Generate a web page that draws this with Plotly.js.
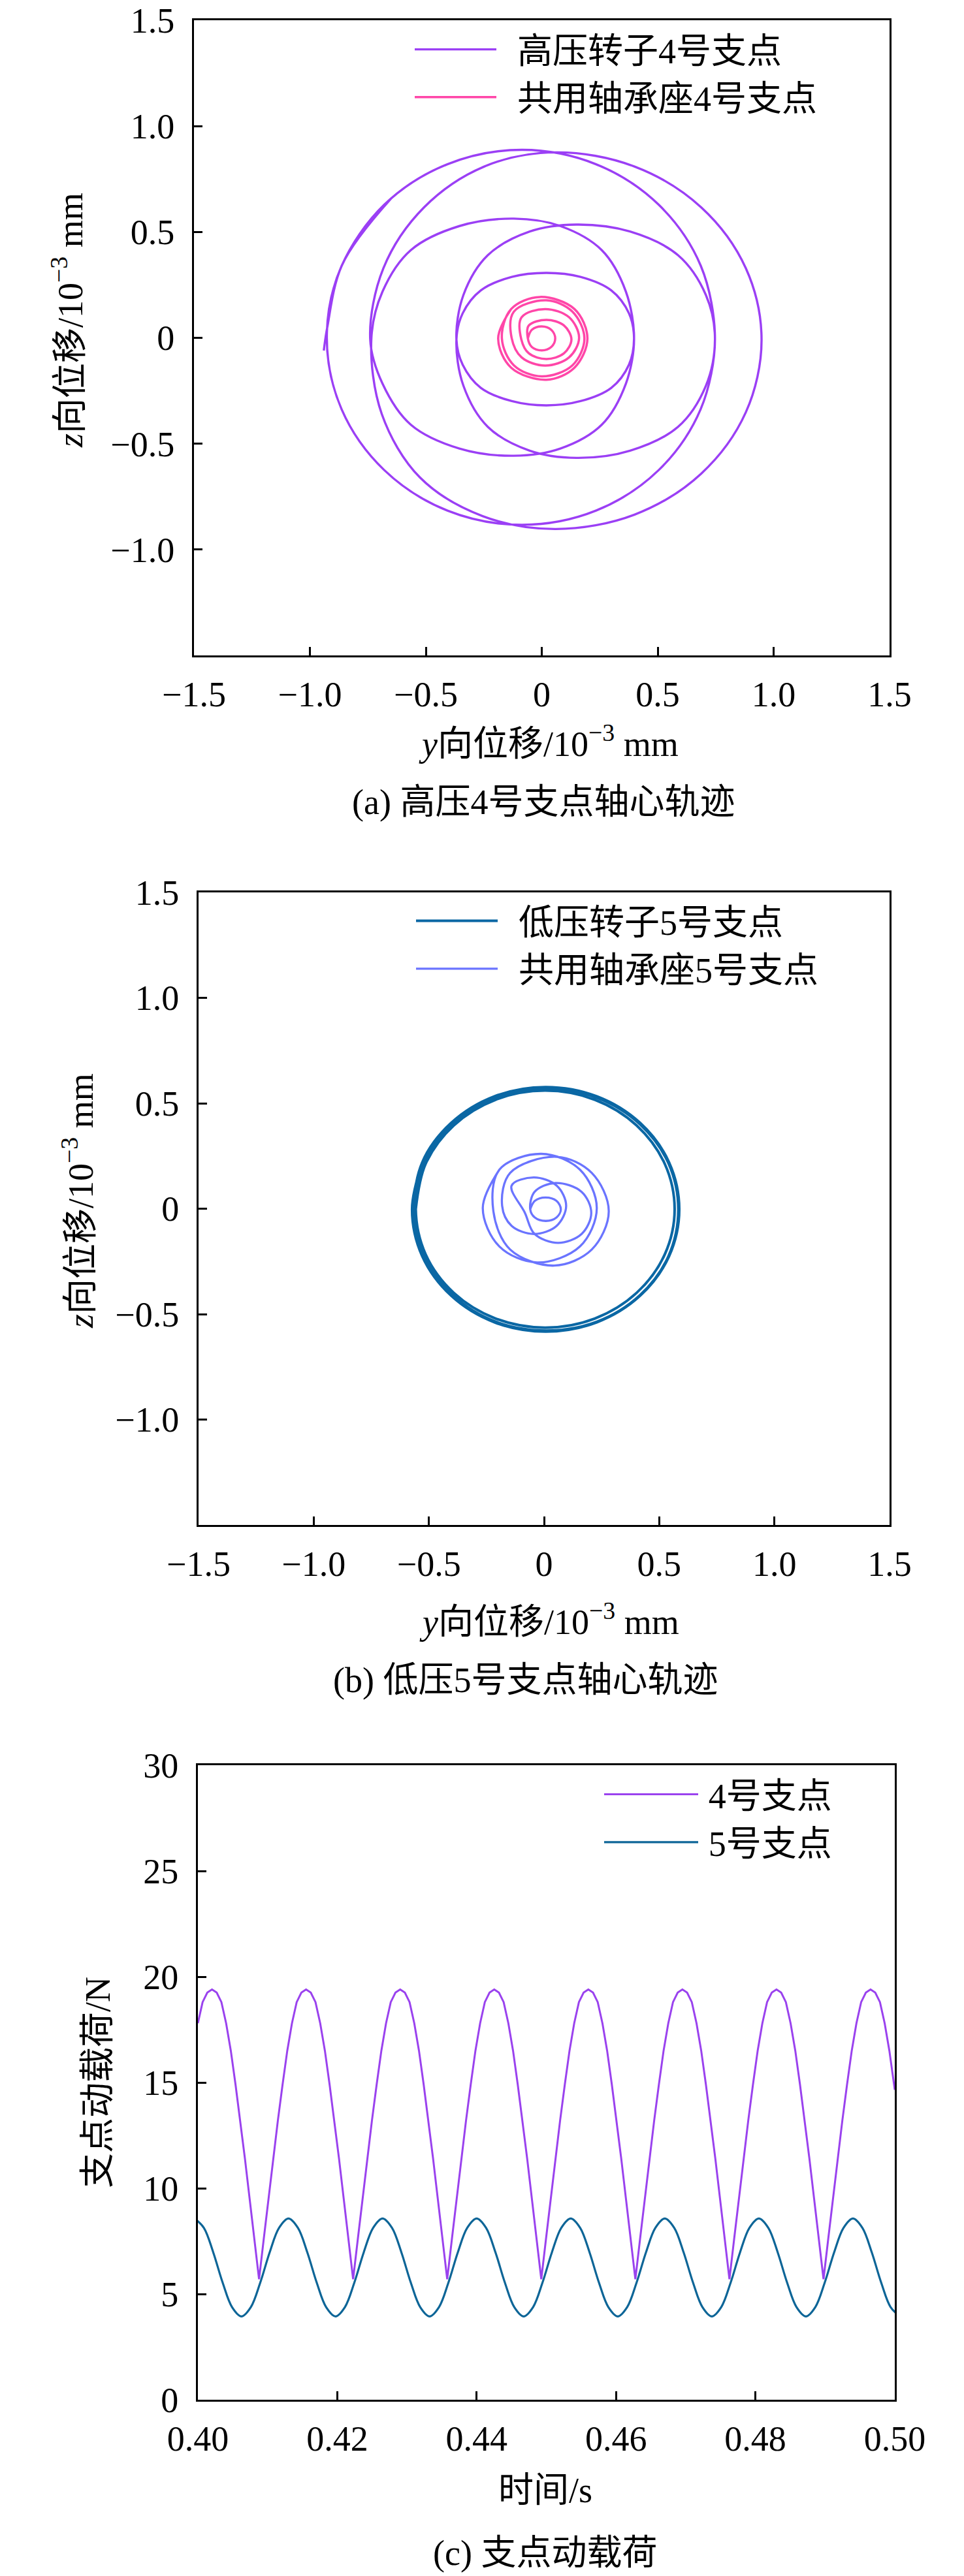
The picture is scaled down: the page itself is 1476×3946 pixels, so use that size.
<!DOCTYPE html>
<html>
<head>
<meta charset="utf-8">
<script src="https://cdn.plot.ly/plotly-3.0.1.min.js"></script>
<style>html,body{margin:0;padding:0;background:#fff;}#chart{width:1476px;height:3946px;}</style>
</head>
<body>
<div id="chart"></div>
<script>
// ---------- tick labels ----------
const dispTickVals = [-1.5, -1, -0.5, 0, 0.5, 1, 1.5];
const dispTickText = ['\u22121.5', '\u22121.0', '\u22120.5', '0', '0.5', '1.0', '1.5'];
const zTickVals = [-1, -0.5, 0, 0.5, 1, 1.5];
const zTickText = ['\u22121.0', '\u22120.5', '0', '0.5', '1.0', '1.5'];
const timeTickVals = [0.40, 0.42, 0.44, 0.46, 0.48, 0.50];
const timeTickText = ['0.40', '0.42', '0.44', '0.46', '0.48', '0.50'];
const loadTickVals = [0, 5, 10, 15, 20, 25, 30];
const loadTickText = ['0', '5', '10', '15', '20', '25', '30'];

// ---------- series names ----------
const names = ['高压转子4号支点', '共用轴承座4号支点', '低压转子5号支点', '共用轴承座5号支点', '4号支点', '5号支点'];

// ---------- (a) HP rotor support 4 orbit (y, z in 1e-3 mm), read along the path ----------
const y4Rotor = [
 -0.648,-0.863,-0.927,-0.863,-0.680,-0.407,-0.085,0.234,0.505,0.685,
 0.747,
 0.708,0.588,0.381,0.15,-0.052,-0.233,-0.338,
 -0.368,
 -0.341,-0.263,-0.129,0.02,0.167,0.300,0.376,
 0.398,
 0.363,0.259,0.080,-0.12,-0.355,-0.565,-0.687,
 -0.735,
 -0.69,-0.525,-0.255,0.06,0.400,0.688,0.880,0.948,0.880,0.688,0.400,0.06,-0.248,-0.508,-0.683,
 -0.74,
 -0.687,-0.565,-0.355,-0.12,0.080,0.259,0.363,
 0.398,
 0.376,0.300,0.167,0.02,-0.129,-0.263,-0.341,
 -0.368,
 -0.338,-0.233,-0.052,0.15,0.381,0.588,0.708,
 0.747,
 0.686,0.505,0.234,-0.085,-0.407,-0.680,-0.863,-0.925,-0.94
];
const z4Rotor = [
 0.66,0.340,0,-0.338,-0.624,-0.816,-0.883,-0.816,-0.624,-0.338,
 -0.005,
 0.202,0.390,0.502,0.535,0.502,0.390,0.202,
 -0.008,
 -0.127,-0.236,-0.299,-0.319,-0.299,-0.236,-0.127,
 -0.003,
 0.218,0.414,0.528,0.563,0.528,0.414,0.218,
 -0.005,
 -0.36,-0.66,-0.842,-0.903,-0.835,-0.641,-0.352,-0.01,0.329,0.616,0.809,0.876,0.809,0.616,0.329,
 -0.005,
 -0.216,-0.410,-0.523,-0.557,-0.523,-0.410,-0.216,
 -0.003,
 0.116,0.224,0.288,0.307,0.288,0.224,0.116,
 -0.008,
 -0.226,-0.420,-0.533,-0.567,-0.533,-0.420,-0.226,
 -0.005,
 0.340,0.628,0.820,0.888,0.820,0.628,0.340,0.05,-0.06
];

// ---------- (a) shared bearing seat support 4 ----------
const y4Seat = [
 -0.132,
 -0.188,-0.132,0.02,0.141,0.197,0.141,-0.008,-0.132,
 -0.172,-0.12,0.0,0.132,0.184,0.132,0.02,-0.12,
 -0.13,-0.087,0.015,0.118,0.161,0.118,0.015,-0.087,
 -0.088,-0.056,0.02,0.096,0.128,0.096,0.02,-0.056,
 -0.06,-0.043,0.0,0.041,0.058,0.041,0.0,-0.043,
 -0.06
];
const z4Seat = [
 0.136,
 -0.003,-0.141,-0.198,-0.141,-0.003,0.136,0.193,0.136,
 -0.003,-0.13,-0.182,-0.13,-0.003,0.124,0.177,0.124,
 0.0,-0.092,-0.131,-0.092,0.0,0.097,0.136,0.097,
 -0.008,-0.073,-0.10,-0.073,-0.008,0.058,0.085,0.058,
 -0.003,-0.043,-0.059,-0.043,-0.003,0.038,0.054,0.038,
 -0.003
];

// ---------- (b) LP rotor support 5 ----------
const y5Rotor = [
 -0.529,
 -0.573,-0.529,-0.403,-0.215,0.007,0.229,0.417,0.543,0.587,0.543,0.417,0.229,0.007,-0.215,-0.403,-0.529,
 -0.563,-0.520,-0.396,-0.210,0.010,0.230,0.416,0.540,0.583,0.540,0.416,0.230,0.010,-0.210,-0.396,-0.520,
 -0.557,-0.514,-0.392,-0.210,0.005,0.220,0.402,0.524,0.567,0.524,0.402,0.220,0.005,-0.210,-0.392,-0.514,
 -0.557
];
const z5Rotor = [
 0.219,
 -0.003,-0.225,-0.413,-0.539,-0.583,-0.539,-0.413,-0.225,-0.003,0.219,0.407,0.533,0.577,0.533,0.407,0.219,
 -0.005,-0.226,-0.411,-0.536,-0.578,-0.536,-0.411,-0.226,-0.005,0.216,0.401,0.526,0.568,0.526,0.401,0.216,
 -0.002,-0.217,-0.399,-0.521,-0.564,-0.521,-0.399,-0.217,-0.002,0.213,0.395,0.517,0.560,0.517,0.395,0.213,
 -0.002
];

// ---------- (b) shared bearing seat support 5 ----------
const y5Seat = [
 -0.194,
 -0.266,-0.194,-0.03,0.156,0.229,0.156,-0.012,-0.194,
 -0.22,-0.147,0.044,0.207,0.281,0.207,0.055,-0.147,
 -0.182,-0.141,-0.043,0.055,0.096,0.055,-0.045,-0.141,
 -0.083,-0.041,0.061,0.163,0.205,0.163,0.05,-0.041,
 -0.06,-0.04,0.008,0.054,0.073,0.054,0.006,-0.04,
 -0.06
];
const z5Seat = [
 0.185,
 0.003,-0.179,-0.255,-0.179,0.003,0.185,0.26,0.185,
 -0.012,-0.194,-0.27,-0.194,-0.012,0.17,0.246,0.17,
 0.014,-0.081,-0.12,-0.081,0.014,0.109,0.148,0.109,
 -0.02,-0.12,-0.162,-0.12,-0.02,0.08,0.122,0.08,
 -0.003,-0.042,-0.058,-0.042,-0.003,0.037,0.053,0.037,
 -0.003
];

// ---------- (c) dynamic load, support 4 ----------
const t4 = [
 0.4,0.400675,0.40135,0.402025,0.4027,0.403375,0.40405,0.404725,0.4054,0.406075,0.40675,0.407425,0.4081,0.408775,0.40945,0.410125,0.4108,0.411475,0.41215,0.412825,
 0.4135,0.414175,0.41485,0.415525,0.4162,0.416875,0.41755,0.418225,0.4189,0.419575,0.42025,0.420925,0.4216,0.422275,0.42295,0.423625,0.4243,0.424975,0.42565,0.426325,
 0.427,0.427675,0.42835,0.429025,0.4297,0.430375,0.43105,0.431725,0.4324,0.433075,0.43375,0.434425,0.4351,0.435775,0.43645,0.437125,0.4378,0.438475,0.43915,0.439825,
 0.4405,0.441175,0.44185,0.442525,0.4432,0.443875,0.44455,0.445225,0.4459,0.446575,0.44725,0.447925,0.4486,0.449275,0.44995,0.450625,0.4513,0.451975,0.45265,0.453325,
 0.454,0.454675,0.45535,0.456025,0.4567,0.457375,0.45805,0.458725,0.4594,0.460075,0.46075,0.461425,0.4621,0.462775,0.46345,0.464125,0.4648,0.465475,0.46615,0.466825,
 0.4675,0.468175,0.46885,0.469525,0.4702,0.470875,0.47155,0.472225,0.4729,0.473575,0.47425,0.474925,0.4756,0.476275,0.47695,0.477625,0.4783,0.478975,0.47965,0.480325,
 0.481,0.481675,0.48235,0.483025,0.4837,0.484375,0.48505,0.485725,0.4864,0.487075,0.48775,0.488425,0.4891,0.489775,0.49045,0.491125,0.4918,0.492475,0.49315,0.493825,
 0.4945,0.495175,0.49585,0.496525,0.4972,0.497875,0.49855,0.499225,0.4999,0.5
];
const f4 = [
 17.8,18.8,19.25,19.4,19.25,18.8,17.8,16.5,14.9,13.2,11.4,9.5,7.6,5.7,7.6,9.5,11.4,13.2,14.9,16.5,
 17.8,18.8,19.25,19.4,19.25,18.8,17.8,16.5,14.9,13.2,11.4,9.5,7.6,5.7,7.6,9.5,11.4,13.2,14.9,16.5,
 17.8,18.8,19.25,19.4,19.25,18.8,17.8,16.5,14.9,13.2,11.4,9.5,7.6,5.7,7.6,9.5,11.4,13.2,14.9,16.5,
 17.8,18.8,19.25,19.4,19.25,18.8,17.8,16.5,14.9,13.2,11.4,9.5,7.6,5.7,7.6,9.5,11.4,13.2,14.9,16.5,
 17.8,18.8,19.25,19.4,19.25,18.8,17.8,16.5,14.9,13.2,11.4,9.5,7.6,5.7,7.6,9.5,11.4,13.2,14.9,16.5,
 17.8,18.8,19.25,19.4,19.25,18.8,17.8,16.5,14.9,13.2,11.4,9.5,7.6,5.7,7.6,9.5,11.4,13.2,14.9,16.5,
 17.8,18.8,19.25,19.4,19.25,18.8,17.8,16.5,14.9,13.2,11.4,9.5,7.6,5.7,7.6,9.5,11.4,13.2,14.9,16.5,
 17.8,18.8,19.25,19.4,19.25,18.8,17.8,16.5,14.9,14.65
];

// ---------- (c) dynamic load, support 5 ----------
const t5 = [
 0.3995,0.40085,0.4022,0.40355,0.4049,0.40625,0.4076,0.40895,0.4103,0.41165,
 0.413,0.41435,0.4157,0.41705,0.4184,0.41975,0.4211,0.42245,0.4238,0.42515,
 0.4265,0.42785,0.4292,0.43055,0.4319,0.43325,0.4346,0.43595,0.4373,0.43865,
 0.44,0.44135,0.4427,0.44405,0.4454,0.44675,0.4481,0.44945,0.4508,0.45215,
 0.4535,0.45485,0.4562,0.45755,0.4589,0.46025,0.4616,0.46295,0.4643,0.46565,
 0.467,0.46835,0.4697,0.47105,0.4724,0.47375,0.4751,0.47645,0.4778,0.47915,
 0.4805,0.48185,0.4832,0.48455,0.4859,0.48725,0.4886,0.48995,0.4913,0.49265,
 0.494,0.49535,0.4967,0.49805,0.4994,0.50075
];
const f5 = [
 8.57,8.13,6.97,5.54,4.38,3.94,4.38,5.54,6.97,8.13,
 8.57,8.13,6.97,5.54,4.38,3.94,4.38,5.54,6.97,8.13,
 8.57,8.13,6.97,5.54,4.38,3.94,4.38,5.54,6.97,8.13,
 8.57,8.13,6.97,5.54,4.38,3.94,4.38,5.54,6.97,8.13,
 8.57,8.13,6.97,5.54,4.38,3.94,4.38,5.54,6.97,8.13,
 8.57,8.13,6.97,5.54,4.38,3.94,4.38,5.54,6.97,8.13,
 8.57,8.13,6.97,5.54,4.38,3.94,4.38,5.54,6.97,8.13,
 8.57,8.13,6.97,5.54,4.38,3.94
];

// ---------- styling ----------
const FONT = "'Liberation Serif', 'Times New Roman', 'Noto Sans CJK SC', serif";
const FS = 54;
const W = 1476, H = 3946;
const px = v => v / W;
const py = v => 1 - v / H;
const GAP_AB = '\u2002';   // en space between legend line and text, panels (a)(b)
const GAP_C = '\u2009';    // thin space, panel (c)

const C_PURPLE = '#9b3ff5';
const C_PINK = '#ff46a8';
const C_DBLUE = '#0a67a4';
const C_LBLUE = '#6a74ff';
const C_PURPLE2 = '#9a42ee';
const C_DBLUE2 = '#0d6597';

function axis(domain, range, tickvals, ticktext, anchor, side) {
  return {
    domain: domain, range: range, anchor: anchor,
    tickmode: 'array', tickvals: tickvals, ticktext: ticktext,
    ticks: 'inside', ticklen: 13, tickwidth: 3, tickcolor: '#000',
    showline: true, linewidth: 3, linecolor: '#000', mirror: true,
    showgrid: false, zeroline: false, fixedrange: true,
    tickfont: {family: FONT, size: FS, color: '#000'},
    ticklabelstandoff: side === 'x' ? 10 : 16
  };
}

const traces = [
  {x: y4Rotor, y: z4Rotor, xaxis: 'x', yaxis: 'y', name: GAP_AB + names[0], legend: 'legend', mode: 'lines',
   line: {color: C_PURPLE, width: 3.4, shape: 'spline', smoothing: 1}},
  {x: y4Seat, y: z4Seat, xaxis: 'x', yaxis: 'y', name: GAP_AB + names[1], legend: 'legend', mode: 'lines',
   line: {color: C_PINK, width: 3.5, shape: 'spline', smoothing: 1}},
  {x: y5Rotor, y: z5Rotor, xaxis: 'x2', yaxis: 'y2', name: GAP_AB + names[2], legend: 'legend2', mode: 'lines',
   line: {color: C_DBLUE, width: 4, shape: 'spline', smoothing: 1}},
  {x: y5Seat, y: z5Seat, xaxis: 'x2', yaxis: 'y2', name: GAP_AB + names[3], legend: 'legend2', mode: 'lines',
   line: {color: C_LBLUE, width: 3.3, shape: 'spline', smoothing: 1}},
  {x: t4, y: f4, xaxis: 'x3', yaxis: 'y3', name: GAP_C + names[4], legend: 'legend3', legendgroup: 'g4', mode: 'lines',
   line: {color: C_PURPLE2, width: 3, shape: 'linear'}},
  {x: t5, y: f5, xaxis: 'x3', yaxis: 'y3', name: GAP_C + names[5], legend: 'legend3', legendgroup: 'g5', mode: 'lines',
   line: {color: C_DBLUE2, width: 3.2, shape: 'spline', smoothing: 1}}
];

function legendBox(x, y, itemwidth, gap) {
  return {x: x, y: y, xanchor: 'left', yanchor: 'top', bgcolor: 'rgba(0,0,0,0)', borderwidth: 0,
          font: {family: FONT, size: FS, color: '#000'}, itemwidth: itemwidth, tracegroupgap: gap,
          orientation: 'v', traceorder: 'normal'};
}

function ann(text, x, y, angle) {
  return {text: text, xref: 'paper', yref: 'paper', x: x, y: y, xanchor: 'center', yanchor: 'middle',
          showarrow: false, textangle: angle || 0, font: {family: FONT, size: FS, color: '#000'}};
}

const layout = {
  width: W, height: H, margin: {l: 0, r: 0, t: 0, b: 0}, autosize: false,
  paper_bgcolor: '#fff', plot_bgcolor: '#fff', showlegend: true,
  font: {family: FONT, size: FS, color: '#000'},
  xaxis:  axis([px(297), px(1362)], [-1.5, 1.5], dispTickVals, dispTickText, 'y', 'x'),
  yaxis:  axis([py(1004), py(31)], [-1.5, 1.5], zTickVals, zTickText, 'x', 'y'),
  xaxis2: axis([px(304), px(1362)], [-1.5, 1.5], dispTickVals, dispTickText, 'y2', 'x'),
  yaxis2: axis([py(2336), py(1367)], [-1.5, 1.5], zTickVals, zTickText, 'x2', 'y'),
  xaxis3: axis([px(303), px(1370)], [0.4, 0.5], timeTickVals, timeTickText, 'y3', 'x'),
  yaxis3: axis([py(3676), py(2704)], [0, 30], loadTickVals, loadTickText, 'x3', 'y'),
  legend:  legendBox(px(630), py(34), 125, 0),
  legend2: legendBox(px(632), py(1369), 125, 0),
  legend3: legendBox(px(920), py(2707), 144, 5),
  annotations: [
    ann('<i>z</i>向位移/10<sup>\u22123</sup> mm', px(104), py(490), -90),
    ann('<i>y</i>向位移/10<sup>\u22123</sup> mm', px(840), py(1136), 0),
    ann('(a) 高压4号支点轴心轨迹', px(832), py(1229), 0),
    ann('<i>z</i>向位移/10<sup>\u22123</sup> mm', px(120), py(1840), -90),
    ann('<i>y</i>向位移/10<sup>\u22123</sup> mm', px(841), py(2480), 0),
    ann('(b) 低压5号支点轴心轨迹', px(804), py(2574), 0),
    ann('支点动载荷/N', px(150), py(3190), -90),
    ann('时间/s', px(835), py(3815), 0),
    ann('(c) 支点动载荷', px(834), py(3911), 0)
  ]
};

Plotly.newPlot('chart', traces, layout, {staticPlot: true, displayModeBar: false});
</script>
</body>
</html>
